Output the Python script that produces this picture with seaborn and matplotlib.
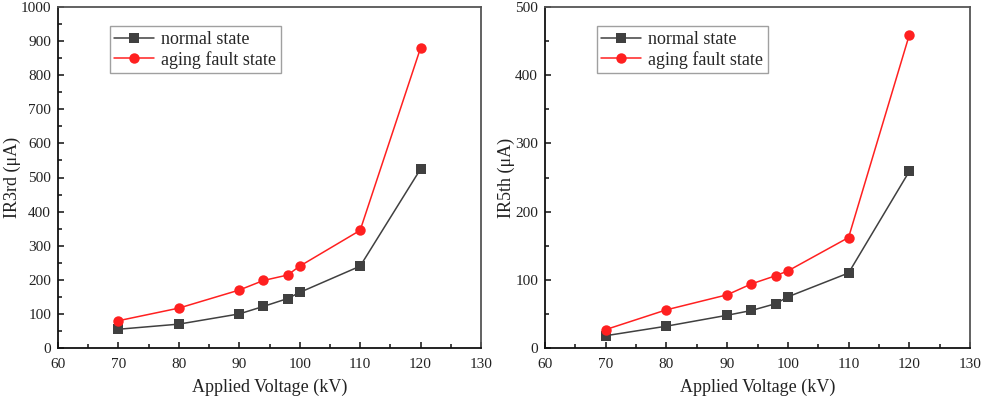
import matplotlib
matplotlib.use("Agg")
import matplotlib.pyplot as plt
import seaborn as sns
import pandas as pd
from matplotlib.ticker import MultipleLocator

sns.set_theme(style="white")
plt.rcParams['font.family'] = ['Liberation Serif', 'DejaVu Serif']

voltage = [70, 80, 90, 94, 98, 100, 110, 120]
ir3_normal = [55, 70, 100, 122, 145, 163, 240, 525]
ir3_aging = [80, 117, 170, 198, 214, 240, 345, 880]
ir5_normal = [18, 32, 48, 55, 65, 75, 110, 259]
ir5_aging = [27, 56, 78, 94, 106, 113, 162, 459]
labels = ["normal state", "aging fault state"]

fig = plt.figure(figsize=(9.82, 3.97), dpi=100)
ax1 = fig.add_axes([58/982, 1-348/397, (481-58)/982, (348-7)/397])
ax2 = fig.add_axes([545/982, 1-348/397, (970-545)/982, (348-7)/397])

def draw(ax, normal, aging, ylabel, ymax, ymajor, yminor):
    df = pd.DataFrame({"V": voltage * 2, "I": normal + aging,
                       "state": [labels[0]] * len(voltage) + [labels[1]] * len(voltage)})
    sns.lineplot(data=df, x="V", y="I", hue="state", style="state",
                 palette={labels[0]: "#404040", labels[1]: "#ff2020"},
                 markers={labels[0]: "s", labels[1]: "o"}, dashes=False,
                 markersize=7.5, linewidth=1.1, markeredgewidth=0, ax=ax)
    ax.set_xlim(60, 130)
    ax.set_ylim(0, ymax)
    ax.xaxis.set_major_locator(MultipleLocator(10))
    ax.xaxis.set_minor_locator(MultipleLocator(5))
    ax.yaxis.set_major_locator(MultipleLocator(ymajor))
    ax.yaxis.set_minor_locator(MultipleLocator(yminor))
    ax.tick_params(which="both", direction="in", bottom=True, left=True, top=False, right=False,
                   labelsize=11, colors="#222222")
    ax.tick_params(axis="x", pad=7)
    ax.tick_params(axis="y", pad=5)
    ax.tick_params(which="major", length=4, width=1.2)
    ax.tick_params(which="minor", length=3, width=1.2)
    for s in ax.spines.values():
        s.set_color("#555555")
        s.set_linewidth(1.3)
    ax.spines["bottom"].set_color("#111111")
    ax.spines["left"].set_color("#111111")
    ax.set_xlabel("Applied Voltage (kV)", fontsize=13, color="#222222", labelpad=6)
    ax.set_ylabel(ylabel, fontsize=13, color="#222222", labelpad=0)
    leg = ax.legend(loc="upper left", bbox_to_anchor=(0.122, 0.943), borderaxespad=0,
                    fontsize=13, frameon=True, fancybox=False, handlelength=2.2,
                    borderpad=0.25, labelspacing=0.15, handletextpad=0.4)
    leg.get_frame().set_edgecolor("#888888")
    leg.get_frame().set_linewidth(1.0)

draw(ax1, ir3_normal, ir3_aging, "IR3rd (μA)", 1000, 100, 50)
draw(ax2, ir5_normal, ir5_aging, "IR5th (μA)", 500, 100, 50)

fig.savefig("out.png", dpi=100)
